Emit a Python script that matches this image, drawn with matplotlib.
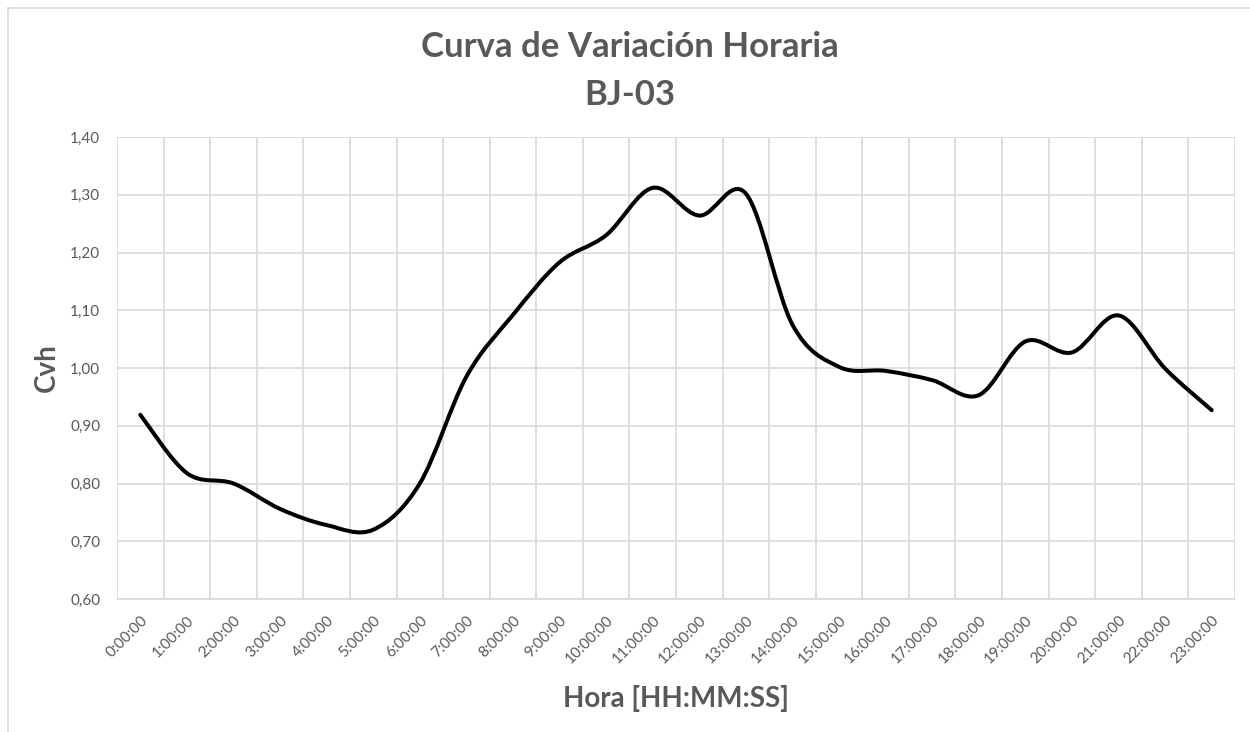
import matplotlib.pyplot as plt
import numpy as np
from matplotlib.path import Path
from matplotlib.patches import PathPatch
from matplotlib.lines import Line2D

hours = [f"{h}:00:00" for h in range(24)]
cvh = [0.919, 0.818, 0.800, 0.756, 0.728, 0.720, 0.800, 0.985,
       1.092, 1.183, 1.230, 1.312, 1.264, 1.302, 1.075, 1.002,
       0.995, 0.979, 0.953, 1.046, 1.027, 1.091, 0.999, 0.927]

TEXT = "#595959"
GRID = "#d9d9d9"
FONT = "Lato"

plt.rcParams["font.family"] = [FONT, "DejaVu Sans"]

fig = plt.figure(figsize=(12.5, 7.32), dpi=100, facecolor="white")
ax = fig.add_axes([0.0936, 0.1817, 0.8944, 0.6311])

# chart frame (top and left edges visible in the reference)
fig.add_artist(Line2D([8 / 1250, 1.0], [1 - 8 / 732] * 2, color=GRID, lw=1.2))
fig.add_artist(Line2D([8 / 1250] * 2, [0.0, 1 - 8 / 732], color=GRID, lw=1.2))

# smoothed line like Excel: cubic Bezier through each point
x = np.arange(len(cvh)) + 0.5
y = np.array(cvh)
pts = np.column_stack([x, y])
ext = np.vstack([pts[0], pts, pts[-1]])
verts = [pts[0]]
codes = [Path.MOVETO]
for i in range(len(pts) - 1):
    p0, p1, p2, p3 = ext[i], ext[i + 1], ext[i + 2], ext[i + 3]
    verts += [p1 + (p2 - p0) / 6, p2 - (p3 - p1) / 6, p2]
    codes += [Path.CURVE4] * 3
ax.add_patch(PathPatch(Path(verts, codes), fill=False, edgecolor="black",
                       lw=2.9, capstyle="round", joinstyle="round", zorder=3))

ax.set_xlim(0, 24)
ax.set_ylim(0.6, 1.4)
ax.set_yticks(np.arange(0.6, 1.401, 0.1))
ax.set_yticklabels([f"{v:.2f}".replace(".", ",") for v in np.arange(0.6, 1.401, 0.1)],
                   fontsize=11, color=TEXT)
ax.set_xticks(x, minor=True)
ax.set_xticklabels(hours, minor=True, rotation=45, ha="right",
                   rotation_mode="anchor", fontsize=11, color=TEXT)
ax.set_xticks(np.arange(25))
ax.set_xticklabels([])
ax.tick_params(axis="both", which="both", length=0)
ax.tick_params(axis="y", pad=12)
ax.tick_params(axis="x", which="minor", pad=10)
ax.grid(True, which="major", color=GRID, lw=1.2)
for s in ["top", "right", "left"]:
    ax.spines[s].set_visible(False)
ax.spines["bottom"].set_color(GRID)
ax.spines["bottom"].set_linewidth(1.2)

fig.text(630 / 1250, 1 - 47 / 732, "Curva de Variación Horaria", ha="center", va="center",
         fontsize=25, fontweight="bold", color=TEXT)
fig.text(630 / 1250, 1 - 95 / 732, "BJ-03", ha="center", va="center",
         fontsize=25, fontweight="bold", color=TEXT)
fig.text(47 / 1250, 1 - 368 / 732, "Cvh", rotation=90, ha="center", va="center",
         fontsize=20, fontweight="bold", color=TEXT)
fig.text(676 / 1250, 1 - 698 / 732, "Hora [HH:MM:SS]", ha="center", va="center",
         fontsize=20, fontweight="bold", color=TEXT)

fig.savefig("out.png", dpi=100, facecolor="white")
plt.close(fig)
